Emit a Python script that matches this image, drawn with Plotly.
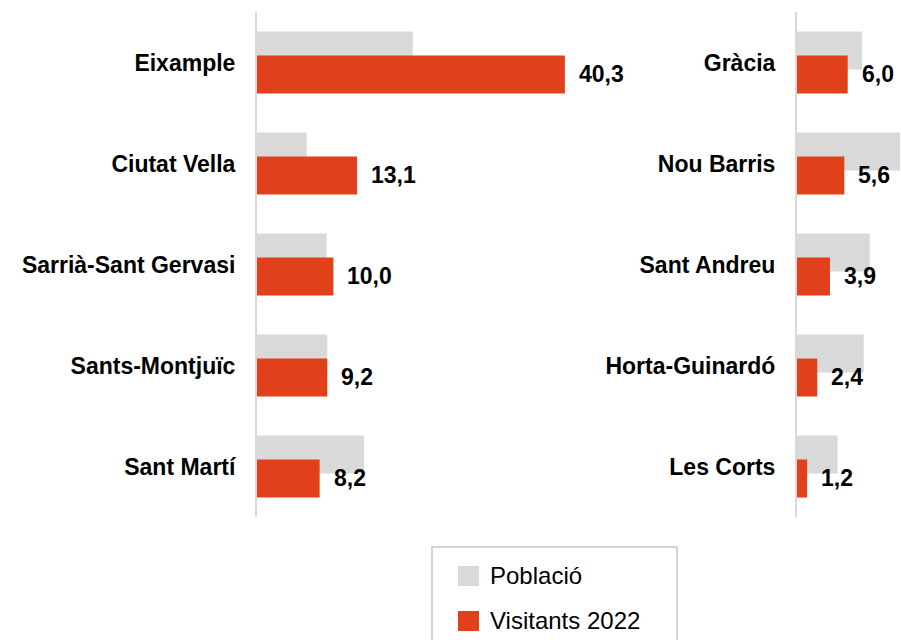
import plotly.graph_objects as go

# ---- data ----
left_districts = ["Eixample", "Ciutat Vella", "Sarrià-Sant Gervasi", "Sants-Montjuïc", "Sant Martí"]
left_poblacio = [20.4, 6.5, 9.1, 9.2, 14.0]
left_visitants = [40.3, 13.1, 10.0, 9.2, 8.2]

right_districts = ["Gràcia", "Nou Barris", "Sant Andreu", "Horta-Guinardó", "Les Corts"]
right_poblacio = [7.7, 12.2, 8.6, 7.9, 4.8]
right_visitants = [6.0, 5.6, 3.9, 2.4, 1.2]

series_names = ["Població", "Visitants 2022"]

# ---- style ----
W, H = 901, 640
GRAY = "#d9d9d9"
ORANGE = "#e0411a"
FONT = "Arial, Liberation Sans, sans-serif"
BAR_W = 0.376
GRAY_OFF = -0.307
ORANGE_OFF = -0.069
ORANGE_CENTER = ORANGE_OFF + BAR_W / 2


def fmt(v):
    return f"{v:.1f}".replace(".", ",")


fig = go.Figure()

panels = [
    (left_districts, left_poblacio, left_visitants, "x", "y"),
    (right_districts, right_poblacio, right_visitants, "x2", "y2"),
]

annotations = []
for cats, pop, vis, xa, ya in panels:
    fig.add_trace(go.Bar(
        y=cats, x=pop, orientation="h", name=series_names[0],
        marker=dict(color=GRAY, line=dict(width=0)),
        width=BAR_W, offset=GRAY_OFF, xaxis=xa, yaxis=ya,
        showlegend=False, hoverinfo="skip",
    ))
    fig.add_trace(go.Bar(
        y=cats, x=vis, orientation="h", name=series_names[1],
        marker=dict(color=ORANGE, line=dict(width=0)),
        width=BAR_W, offset=ORANGE_OFF, xaxis=xa, yaxis=ya,
        showlegend=False, hoverinfo="skip",
    ))
    for i, v in enumerate(vis):
        annotations.append(dict(
            x=v, y=i + ORANGE_CENTER, xref=xa, yref=ya,
            text=fmt(v), showarrow=False, xanchor="left", yanchor="middle",
            xshift=12, yshift=1,
            font=dict(family=FONT, size=23, color="#000000", weight="bold"),
        ))

# legend (custom box)
legend_items = [(series_names[0], GRAY, 576), (series_names[1], ORANGE, 621)]
shapes = [dict(type="rect", xref="paper", yref="paper",
               x0=432 / W, x1=677 / W, y0=1 - 547 / H, y1=-0.2,
               line=dict(color="#c8c8c8", width=1.5), fillcolor="white", layer="below")]
for name, col, yc in legend_items:
    shapes.append(dict(type="rect", xref="paper", yref="paper",
                       x0=458 / W, x1=479 / W, y0=1 - (yc - 10) / H, y1=1 - (yc + 10) / H,
                       line=dict(width=0), fillcolor=col))
    annotations.append(dict(x=488 / W, y=1 - (yc - 1) / H, xref="paper", yref="paper",
                            text=name, showarrow=False, xanchor="left", yanchor="middle",
                            font=dict(family=FONT, size=24, color="#000000")))

y_dom = [1 - 517 / H, 1 - 12 / H]
left_x0 = 257 / W
left_x1 = 620 / W
left_scale = 7.64
right_x0 = 797 / W
right_scale = 8.45

common_y = dict(
    type="category", range=[4.5, -0.5], showgrid=False, zeroline=False,
    showline=True, linecolor=GRAY, linewidth=2, ticks="", ticklabelstandoff=15,
    tickfont=dict(family=FONT, size=23, color="#000000", weight="bold"),
)
common_x = dict(showgrid=False, zeroline=False, showline=False, showticklabels=False, ticks="")

fig.update_layout(
    width=W, height=H, margin=dict(l=0, r=0, t=0, b=0),
    paper_bgcolor="white", plot_bgcolor="white",
    barmode="overlay", showlegend=False,
    xaxis=dict(domain=[left_x0, left_x1], range=[0, (left_x1 - left_x0) * W / left_scale], **common_x),
    yaxis=dict(domain=y_dom, anchor="x", categoryarray=left_districts, categoryorder="array", **common_y),
    xaxis2=dict(domain=[right_x0, 1.0], range=[0, (W - 797) / right_scale], anchor="y2", **common_x),
    yaxis2=dict(domain=y_dom, anchor="x2", categoryarray=right_districts, categoryorder="array", **common_y),
    annotations=annotations, shapes=shapes,
    font=dict(family=FONT),
)

fig.write_html(
    "out.html",
    config={"displayModeBar": False},
    post_script="document.body.style.margin='0px';document.body.style.overflow='hidden';",
)
